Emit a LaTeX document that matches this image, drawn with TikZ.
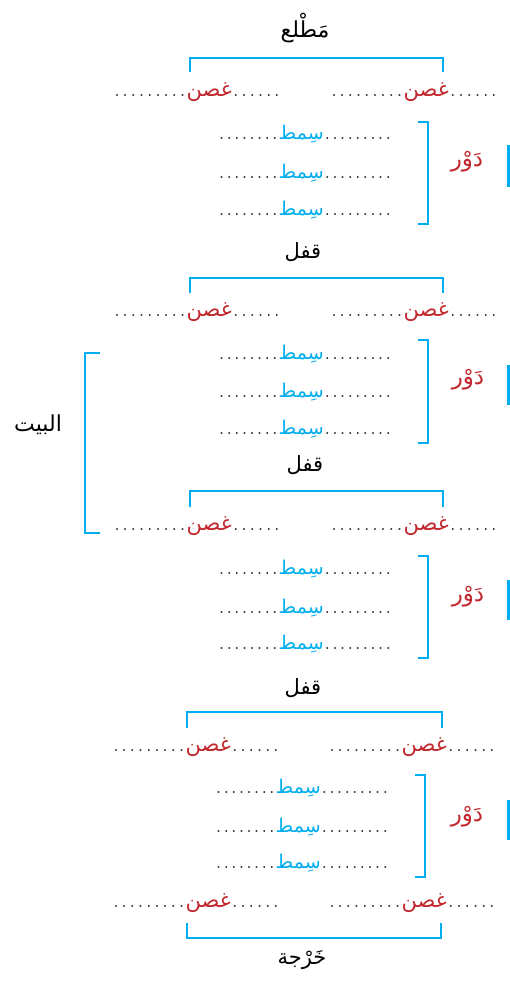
\documentclass[tikz,border=0pt]{standalone}
\usepackage{fontspec}
\newfontfamily\arabicfont[Script=Arabic]{DejaVu Sans}
\TeXXeTstate=1
\definecolor{ared}{HTML}{C1272D}
\definecolor{ablue}{HTML}{00AEEF}
\newcommand\ar[1]{{\arabicfont\beginR #1\endR}}
\newcommand\dtg{\makebox[8.2pt]{\fontsize{24}{24}\selectfont .}}
\newcommand\dts{\makebox[7.6pt]{\fontsize{24}{24}\selectfont .}}
\newcommand\gsix{\dtg\dtg\dtg\dtg\dtg\dtg}
\newcommand\gnine{\gsix\dtg\dtg\dtg}
\newcommand\ssix{\dts\dts\dts\dts\dts\dts}
\newcommand\seight{\ssix\dts\dts}
\newcommand\snine{\seight\dts}
\newcommand\ghusn{\gnine\textcolor{ared}{\fontsize{21}{24}\selectfont\ar{غصن}}\gsix}
\newcommand\simt{\seight\textcolor{ablue}{\fontsize{19}{22}\selectfont\ar{سِمط}}\snine}
\tikzset{
  row/.style={inner sep=0pt, anchor=base, text=black!85},
  lbl/.style={inner sep=0pt, font=\fontsize{21}{24}\selectfont},
  redlbl/.style={lbl, text=ared, font=\fontsize{23}{26}\selectfont},
  brk/.style={draw=ablue, line width=2.6pt},
  bar/.style={fill=ablue, draw=none}
}
\begin{document}
\begin{tikzpicture}[x=1pt,y=-1pt]
\useasboundingbox (0,0) rectangle (510,982);
% title
\node[lbl, font=\fontsize{22}{26}\selectfont] (matla) at (305,28) {\ar{مَطْلع}};
% ---- section 1
\draw[brk] (190,72) -- (190,58) -- (443,58) -- (443,72);
\node[row] (g1l) at (197,96) {\ghusn};
\node[row] (g1r) at (414,96) {\ghusn};
\node[row] (s1a) at (305,139) {\simt};
\node[row] (s1b) at (305,178) {\simt};
\node[row] (s1c) at (305,215) {\simt};
\draw[brk] (418,122) -- (428,122) -- (428,224) -- (418,224);
\node[redlbl] (d1) at (467,162) {\ar{دَوْر}};
\fill[bar] (507,145) rectangle (510,187);
\node[lbl] (q1) at (303,252) {\ar{قفل}};
% ---- section 2
\draw[brk] (190,293) -- (190,278) -- (443,278) -- (443,293);
\node[row] (g2l) at (197,316) {\ghusn};
\node[row] (g2r) at (414,316) {\ghusn};
\node[row] (s2a) at (305,359) {\simt};
\node[row] (s2b) at (305,397) {\simt};
\node[row] (s2c) at (305,434) {\simt};
\draw[brk] (418,340) -- (428,340) -- (428,443) -- (418,443);
\node[redlbl] (d2) at (468,380) {\ar{دَوْر}};
\fill[bar] (507,365) rectangle (510,405);
\draw[brk] (100,353) -- (85,353) -- (85,533) -- (100,533);
\node[lbl, font=\fontsize{22}{26}\selectfont] (bayt) at (38,425) {\ar{البيت}};
\node[lbl] (q2) at (305,465) {\ar{قفل}};
% ---- section 3
\draw[brk] (190,507) -- (190,491) -- (443,491) -- (443,507);
\node[row] (g3l) at (197,530) {\ghusn};
\node[row] (g3r) at (414,530) {\ghusn};
\node[row] (s3a) at (305,574) {\simt};
\node[row] (s3b) at (305,613) {\simt};
\node[row] (s3c) at (305,649) {\simt};
\draw[brk] (418,556) -- (428,556) -- (428,658) -- (418,658);
\node[redlbl] (d3) at (468,597) {\ar{دَوْر}};
\fill[bar] (507,580) rectangle (510,620);
\node[lbl] (q3) at (303,688) {\ar{قفل}};
% ---- section 4
\draw[brk] (187,728) -- (187,712) -- (442,712) -- (442,728);
\node[row] (g4l) at (196,751) {\ghusn};
\node[row] (g4r) at (412,751) {\ghusn};
\node[row] (s4a) at (302,793) {\simt};
\node[row] (s4b) at (302,832) {\simt};
\node[row] (s4c) at (302,868) {\simt};
\draw[brk] (415,775) -- (425,775) -- (425,877) -- (415,877);
\node[redlbl] (d4) at (467,817) {\ar{دَوْر}};
\fill[bar] (507,800) rectangle (510,840);
\node[row] (g5l) at (196,907) {\ghusn};
\node[row] (g5r) at (412,907) {\ghusn};
\draw[brk] (187,923) -- (187,938) -- (441,938) -- (441,923);
\node[lbl] (kharja) at (302,960) {\ar{خَرْجة}};
\end{tikzpicture}
\end{document}
